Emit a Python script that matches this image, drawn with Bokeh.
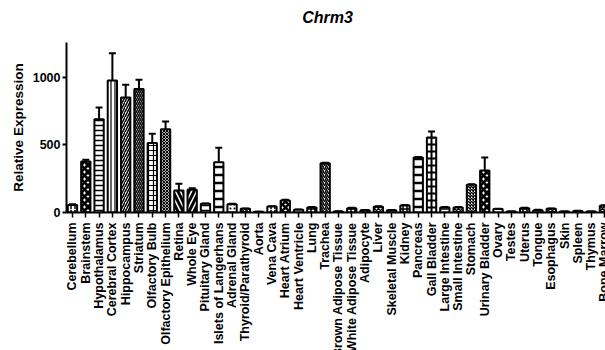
from math import pi
from bokeh.plotting import figure
from bokeh.layouts import column
from bokeh.models import ColumnDataSource, Range1d, FixedTicker, Whisker, TeeHead
from bokeh.core.properties import value
from bokeh.embed import file_html
from bokeh.resources import INLINE

title_text = "Chrm3"
tissues = ["Cerebellum", "Brainstem", "Hypothalamus", "Cerebral Cortex", "Hippocampus",
           "Striatum", "Olfactory Bulb", "Olfactory Epithelium", "Retina", "Whole Eye",
           "Pituitary Gland", "Islets of Langerhans", "Adrenal Gland", "Thyroid/Parathyroid",
           "Aorta", "Vena Cava", "Heart Atrium", "Heart Ventricle", "Lung", "Trachea",
           "Brown Adipose Tissue", "White Adipose Tissue", "Adipocyte", "Liver",
           "Skeletal Muscle", "Kidney", "Pancreas", "Gall Bladder", "Large Intestine",
           "Small Intestine", "Stomach", "Urinary Bladder", "Ovary", "Testes", "Uterus",
           "Tongue", "Esophagus", "Skin", "Spleen", "Thymus", "Bone Marrow"]
expression = [55, 378, 691, 978, 852, 914, 514, 617, 163, 168, 64, 373, 62, 27, 5, 44, 89,
              20, 37, 365, 7, 32, 17, 42, 17, 52, 407, 556, 37, 37, 205, 311, 25, 7, 32,
              17, 27, 7, 12, 7, 50]
sem = [6, 12, 87, 202, 94, 69, 69, 57, 49, 12, 3, 106, 3, 3, 1, 3, 5, 3, 3, 4, 2, 3, 2,
       4, 2, 4, 4, 44, 3, 3, 4, 96, 3, 1, 3, 3, 3, 1, 1, 1, 3]
y_ticks = [0, 500, 1000]

# styles (hatch per bar)
patterns = [":", "x", "-", "|", "/", "\\", "+", "x", "\\", "/",
            "-", "-", ".", "/", " ", ":", "x", "-", "+", "/",
            "-", "+", "|", "x", "-", "+", "-", "+", "-", "x",
            "x", "x", "-", "|", "+", "-", "x", " ", "-", "|", "x"]
scales = [4, 7, 5, 4, 5, 4, 5, 3, 10, 10,
          5, 8, 4, 4, 4, 4, 6, 4, 4, 4,
          4, 4, 4, 4, 4, 4, 8, 7, 4, 4,
          3, 7, 4, 4, 4, 4, 4, 4, 4, 4, 4]
weights = [1.5, 3, 1.5, 1.2, 1.5, 1.5, 1.2, 1.2, 3, 3,
           1.5, 2.5, 1.5, 1.5, 1, 1.5, 2.5, 1.5, 1.5, 1.5,
           1.5, 1.5, 1.5, 1.5, 1.5, 1.5, 2.5, 2, 1.5, 1.5,
           1.5, 3, 1.5, 1.5, 1.5, 1.5, 1.5, 1.5, 1.5, 1.5, 1.5]

xs = list(range(len(tissues)))
src = ColumnDataSource(dict(
    x=xs, top=expression, upper=[v + e for v, e in zip(expression, sem)],
    name=tissues, ty=[-1] * len(tissues),
    pat=patterns, sc=scales, wt=weights))

FONT = "Liberation Sans"
W = 605
LEFT = 66
H0 = 42           # title strip
H1 = 179          # plot
H2 = 350 - H0 - H1  # tissue-name strip


def bare(fig):
    fig.outline_line_color = None
    fig.xgrid.visible = False
    fig.ygrid.visible = False


# title strip (pixel coordinates)
pt = figure(width=W, height=H0, output_backend="svg", toolbar_location=None,
            x_range=Range1d(LEFT, W), y_range=Range1d(-H0, 0),
            x_axis_location=None, y_axis_location=None,
            min_border_left=LEFT, min_border_right=0, min_border_top=0,
            min_border_bottom=0)
bare(pt)
pt.text(x=[327], y=[-16.5], text=[title_text], text_align="center",
        text_baseline="middle", text_font=value(FONT), text_font_style="bold italic",
        text_font_size="16px", text_color="black")

xr = Range1d(-0.45, 40.08)
p = figure(width=W, height=H1, output_backend="svg", toolbar_location=None,
           x_range=xr, y_range=Range1d(0, 1259),
           min_border_left=LEFT, min_border_right=0, min_border_top=0,
           min_border_bottom=9)
bare(p)

p.vbar(x="x", top="top", width=0.7, bottom=0, source=src, fill_color="white",
       line_color="black", line_width=2, hatch_pattern="pat", hatch_scale="sc",
       hatch_weight="wt", hatch_color="black")

w = Whisker(base="x", lower="top", upper="upper", source=src, dimension="height",
            line_color="black", line_width=2,
            upper_head=TeeHead(size=7, line_width=2, line_color="black"),
            lower_head=None)
p.add_layout(w)

# y axis
ya = p.yaxis[0]
ya.ticker = FixedTicker(ticks=y_ticks)
ya.axis_label = "Relative Expression"
ya.axis_label_text_font = FONT
ya.axis_label_text_font_style = "bold"
ya.axis_label_text_font_size = "13.5px"
ya.axis_label_text_color = "black"
ya.axis_label_standoff = 4
ya.major_label_text_font = FONT
ya.major_label_text_font_style = "bold"
ya.major_label_text_font_size = "12.5px"
ya.major_label_text_color = "black"
ya.major_label_standoff = 2
ya.axis_line_width = 2
ya.major_tick_line_width = 2
ya.major_tick_out = 4
ya.major_tick_in = 0
ya.minor_tick_line_color = None

# x axis: ticks only; the tissue names are drawn in the strip below
xa = p.xaxis[0]
xa.ticker = FixedTicker(ticks=xs)
xa.major_label_overrides = {i: "" for i in xs}
xa.major_label_text_font_size = "1px"
xa.major_label_standoff = 0
xa.axis_line_width = 2
xa.major_tick_line_width = 1.5
xa.major_tick_out = 5
xa.major_tick_in = 0
xa.minor_tick_line_color = None

# tissue-name strip
p2 = figure(width=W, height=H2, output_backend="svg", toolbar_location=None,
            x_range=xr, y_range=Range1d(-H2, 0),
            x_axis_location=None, y_axis_location=None,
            min_border_left=LEFT, min_border_right=0, min_border_top=0,
            min_border_bottom=0)
bare(p2)
p2.text(x="x", y="ty", text="name", source=src, angle=pi / 2,
        text_align="right", text_baseline="middle", text_font=value(FONT),
        text_font_style="bold", text_font_size="12.5px", text_color="black")

layout = column(pt, p, p2, spacing=0)
open("out.html", "w").write(file_html(layout, INLINE))
